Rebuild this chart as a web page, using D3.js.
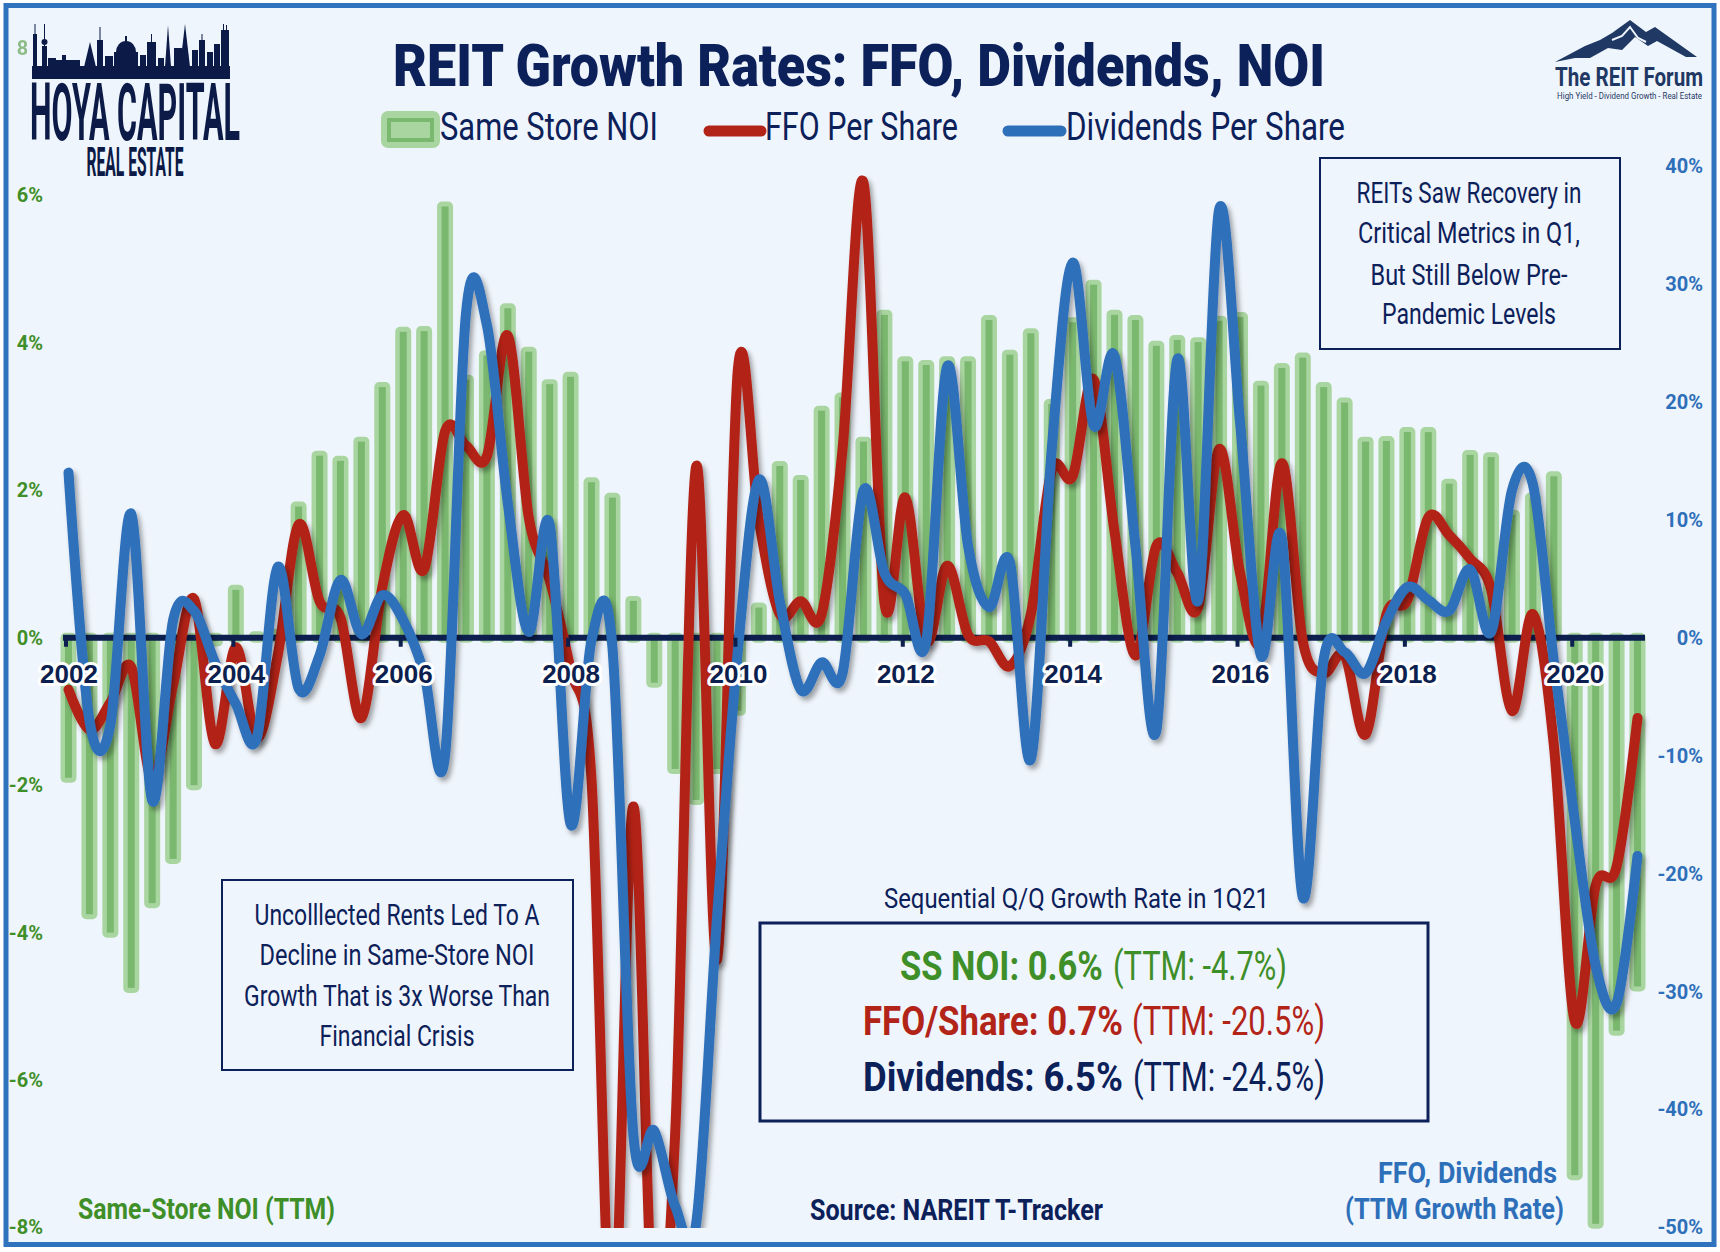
<!DOCTYPE html>
<html>
<head>
<meta charset="utf-8">
<script src="https://cdn.jsdelivr.net/npm/d3@7/dist/d3.min.js"></script>
<style>
  html, body { margin: 0; padding: 0; background: #ffffff; }
  svg { display: block; }
</style>
</head>
<body>
<svg id="chart" width="1720" height="1252"></svg>
<script>
// ---------------- DATA ----------------
const quarters = [
  "2002Q1","2002Q2","2002Q3","2002Q4","2003Q1","2003Q2","2003Q3","2003Q4",
  "2004Q1","2004Q2","2004Q3","2004Q4","2005Q1","2005Q2","2005Q3","2005Q4",
  "2006Q1","2006Q2","2006Q3","2006Q4","2007Q1","2007Q2","2007Q3","2007Q4",
  "2008Q1","2008Q2","2008Q3","2008Q4","2009Q1","2009Q2","2009Q3","2009Q4",
  "2010Q1","2010Q2","2010Q3","2010Q4","2011Q1","2011Q2","2011Q3","2011Q4",
  "2012Q1","2012Q2","2012Q3","2012Q4","2013Q1","2013Q2","2013Q3","2013Q4",
  "2014Q1","2014Q2","2014Q3","2014Q4","2015Q1","2015Q2","2015Q3","2015Q4",
  "2016Q1","2016Q2","2016Q3","2016Q4","2017Q1","2017Q2","2017Q3","2017Q4",
  "2018Q1","2018Q2","2018Q3","2018Q4","2019Q1","2019Q2","2019Q3","2019Q4",
  "2020Q1","2020Q2","2020Q3","2020Q4"
];
// Same Store NOI, TTM growth (%), left axis
const sameStoreNOI = [
  -1.9, -3.75, -4.0, -4.75, -3.6, -3.0, -2.0, -0.05,
  0.65, 0.02, 0.05, 1.78, 2.47, 2.4, 2.66, 3.4,
  4.15, 4.16, 5.85, 3.5, 3.83, 4.47, 3.88, 3.44,
  3.54, 2.11, 1.9, 0.5, -0.61, -1.78, -2.2, -1.78,
  -0.99, 0.41, 2.33, 2.14, 3.08, 3.26, 2.66, 4.38,
  3.75, 3.7, 3.75, 3.75, 4.31, 3.84, 4.13, 3.17,
  4.28, 4.79, 4.38, 4.31, 3.96, 4.04, 4.01, 4.3,
  4.35, 3.42, 3.66, 3.8, 3.4, 3.19, 2.66, 2.67,
  2.79, 2.79, 2.09, 2.48, 2.45, 1.67, 1.9, 2.19,
  -7.29, -7.95, -5.33, -4.73
];
// FFO per share, TTM growth (%), right axis
const ffoPerShare = [
  -4.4, -7.8, -5.5, -2.5, -12.0, -4.0, 3.3, -9.0,
  -0.8, -8.5, -1.5, 9.6, 3.1, 1.7, -6.8, 4.3,
  10.4, 5.8, 17.5, 16.3, 15.4, 25.6, 10.2, 4.9,
  -2.7, -12.0, -60, -14.3, -60, -42, 14.5, -27.3,
  22.8, 10.0, 2.0, 3.1, 2.0, 16.0, 38.6, 3.0,
  11.9, -0.3, 6.1, 0.25, -0.3, -2.4, 2.0, 14.2,
  13.7, 21.9, 9.0, -1.5, 7.8, 5.5, 2.6, 16.0,
  5.5, -0.3, 14.8, -0.3, -3.0, -1.5, -8.2, 2.0,
  3.2, 10.2, 8.7, 6.7, 4.1, -6.2, 2.0, -9.1,
  -32.5, -21.0, -19.4, -6.8
];
// Dividends per share, TTM growth (%), right axis
const dividendsPerShare = [
  14.0, -7.0, -7.4, 10.5, -13.8, 1.5, 2.3, -2.1,
  -5.6, -8.5, 6.0, -4.3, -1.5, 4.9, 0.3, 3.6,
  1.5, -3.0, -10.0, 27.5, 26.5, 11.4, 0.5, 9.6,
  -15.8, -0.2, -0.8, -42.1, -41.8, -48.2, -49.7, -23.7,
  -1.0, 13.4, 3.1, -4.4, -2.1, -3.0, 12.5, 5.5,
  3.7, -0.3, 23.0, 7.8, 2.6, 6.4, -10.3, 16.0,
  31.8, 18.0, 23.9, 7.8, -7.9, 23.6, 3.2, 36.3,
  18.3, -1.5, 8.4, -22.0, -1.8, -1.2, -3.0, 1.4,
  4.3, 3.2, 2.3, 5.8, 0.5, 12.5, 13.0, -2.0,
  -15.5, -27.8, -31.0, -18.5
];
const yearTicks = ["2002Q1","2004Q1","2006Q1","2008Q1","2010Q1","2012Q1","2014Q1","2016Q1","2018Q1","2020Q1"];
const yearLabels = ["2002","2004","2006","2008","2010","2012","2014","2016","2018","2020"];
const leftTicks = [-8, -6, -4, -2, 0, 2, 4, 6, 8];
const rightTicks = [-50, -40, -30, -20, -10, 0, 10, 20, 30, 40];

// ---------------- STYLE ----------------
const NAVY = "#0c2059", GREEN = "#3f8f29", RED = "#b22418", BLUE = "#2e6fba";
const BG = "#eff5fc";

const svg = d3.select("#chart");
const defs = svg.append("defs");
const f = defs.append("filter").attr("id", "shadow")
  .attr("x", "-5%").attr("y", "-5%").attr("width", "110%").attr("height", "115%");
f.append("feDropShadow").attr("dx", 3).attr("dy", 4).attr("stdDeviation", 2.5)
  .attr("flood-color", "#000").attr("flood-opacity", 0.35);
defs.append("clipPath").attr("id", "plotclip").append("rect")
  .attr("x", 40).attr("y", 40).attr("width", 1640).attr("height", 1188);

// background and frame
svg.append("rect").attr("width", 1720).attr("height", 1252).attr("fill", "#ffffff");
svg.append("rect").attr("x", 6).attr("y", 5.5).attr("width", 1708).attr("height", 1239)
  .attr("fill", BG).attr("stroke", "#2f72be").attr("stroke-width", 5);

// ---------------- SCALES ----------------
const x = d3.scalePoint().domain(quarters).range([68.5, 1637.5]);
const yL = d3.scaleLinear().domain([-8, 8]).range([1227.5, 48]);
const yR = d3.scaleLinear().domain([-50, 50]).range([1227.5, 48]);
const y0 = yL(0);

// ---------------- BARS ----------------
const bars = svg.append("g");
const barData = quarters.map((q, i) => ({ q, v: sameStoreNOI[i] }));
bars.selectAll("rect.halo").data(barData).join("rect").attr("class", "halo")
  .attr("x", d => x(d.q) - 8)
  .attr("width", 16)
  .attr("y", d => Math.min(yL(d.v), y0) - 5)
  .attr("height", d => Math.abs(yL(d.v) - y0) + 10)
  .attr("rx", 5)
  .attr("fill", "#a9d5a0");
bars.selectAll("rect.core").data(barData).join("rect").attr("class", "core")
  .attr("x", d => x(d.q) - 3.5)
  .attr("width", 7)
  .attr("y", d => Math.min(yL(d.v), y0))
  .attr("height", d => Math.abs(yL(d.v) - y0))
  .attr("fill", "#7bb86f");

// ---------------- ZERO LINE ----------------
svg.append("line").attr("x1", 63).attr("x2", 1645).attr("y1", y0).attr("y2", y0)
  .attr("stroke", "#0c1f4f").attr("stroke-width", 6);

// ---------------- LINES ----------------
const lineGen = (arr) => d3.line()
  .x((d, i) => x(quarters[i]))
  .y(d => yR(d))
  .curve(d3.curveCatmullRom.alpha(0))(arr);

const lines = svg.append("g").attr("clip-path", "url(#plotclip)");
lines.append("path").attr("d", lineGen(ffoPerShare))
  .attr("fill", "none").attr("stroke", RED).attr("stroke-width", 10)
  .attr("stroke-linejoin", "round").attr("stroke-linecap", "round")
  .attr("filter", "url(#shadow)");
lines.append("path").attr("d", lineGen(dividendsPerShare))
  .attr("fill", "none").attr("stroke", BLUE).attr("stroke-width", 10)
  .attr("stroke-linejoin", "round").attr("stroke-linecap", "round")
  .attr("filter", "url(#shadow)");

// year axis (ticks + labels on top)
const xAxis = d3.axisBottom(x).tickValues(yearTicks)
  .tickFormat(d => yearLabels[yearTicks.indexOf(d)]).tickSize(9);
const xg = svg.append("g").attr("transform", `translate(0,${y0})`).call(xAxis);
xg.select(".domain").remove();
xg.selectAll(".tick line").attr("stroke", "#0c1f4f").attr("stroke-width", 4)
  .attr("transform", "translate(-3,0)");
xg.selectAll(".tick text")
  .attr("y", 45).attr("dy", 0)
  .attr("font-family", "'Liberation Sans', Arial, sans-serif")
  .attr("font-weight", 700).attr("font-size", 26)
  .attr("fill", "#0c1f4f")
  .attr("stroke", "#ffffff").attr("stroke-width", 6).attr("stroke-linejoin", "round")
  .attr("paint-order", "stroke");

// ---------------- Y AXES ----------------
const la = svg.append("g").attr("transform", "translate(43,0)")
  .call(d3.axisLeft(yL).tickValues(leftTicks).tickFormat(d => d + "%").tickSize(0).tickPadding(0));
la.select(".domain").remove();
la.selectAll("text").attr("font-family", "Roboto, sans-serif").attr("font-weight", 700)
  .attr("font-size", 20).attr("fill", GREEN)
  .attr("opacity", d => d === 8 ? 0.55 : 1);

const ra = svg.append("g").attr("transform", "translate(1703,0)")
  .call(d3.axisLeft(yR).tickValues(rightTicks).tickFormat(d => d + "%").tickSize(0).tickPadding(0));
ra.select(".domain").remove();
ra.selectAll("text").attr("font-family", "Roboto, sans-serif").attr("font-weight", 700)
  .attr("font-size", 20).attr("fill", BLUE);

// ---------------- TEXT HELPERS ----------------
function txt(o) {
  const t = svg.append("text")
    .attr("x", o.x).attr("y", o.y)
    .attr("font-family", o.family || "Roboto, 'Open Sans', sans-serif")
    .attr("font-size", o.size)
    .attr("font-weight", o.weight || 400)
    .attr("fill", o.fill || NAVY)
    .attr("text-anchor", o.anchor || "start")
    .text(o.text);
  if (o.len) t.attr("textLength", o.len).attr("lengthAdjust", "spacingAndGlyphs");
  return t;
}
// horizontally condensed text via transform (fits the given width)
function ctxt(o) {
  const g = svg.append("g");
  const t = g.append("text")
    .attr("font-family", o.family || "Roboto, 'Open Sans', sans-serif")
    .attr("font-size", o.size).attr("font-weight", o.weight || 400)
    .attr("fill", o.fill || NAVY).attr("text-anchor", o.anchor || "start")
    .text(o.text);
  const w = t.node().getComputedTextLength();
  const k = o.len / w;
  g.attr("transform", `translate(${o.x},${o.y}) scale(${k},1)`);
  return t;
}

// ---------------- TITLE & LEGEND ----------------
txt({ x: 859, y: 86, text: "REIT Growth Rates: FFO, Dividends, NOI", size: 60, weight: 900, anchor: "middle", len: 932 });

svg.append("rect").attr("x", 381).attr("y", 111).attr("width", 59).attr("height", 37)
  .attr("rx", 7).attr("fill", "#a9d5a0");
svg.append("rect").attr("x", 389).attr("y", 120).attr("width", 43).attr("height", 20)
  .attr("fill", "#a9d5a0").attr("stroke", "#7bb86f").attr("stroke-width", 4);
txt({ x: 549, y: 140, text: "Same Store NOI", size: 39, weight: 400, anchor: "middle", len: 218 });
svg.append("line").attr("x1", 709).attr("x2", 761).attr("y1", 131).attr("y2", 131)
  .attr("stroke", RED).attr("stroke-width", 11).attr("stroke-linecap", "round");
txt({ x: 861.5, y: 140, text: "FFO Per Share", size: 39, weight: 400, anchor: "middle", len: 193 });
svg.append("line").attr("x1", 1008).attr("x2", 1061).attr("y1", 131).attr("y2", 131)
  .attr("stroke", BLUE).attr("stroke-width", 11).attr("stroke-linecap", "round");
txt({ x: 1205.5, y: 140, text: "Dividends Per Share", size: 39, weight: 400, anchor: "middle", len: 279 });

// ---------------- ANNOTATION BOXES ----------------
svg.append("rect").attr("x", 222).attr("y", 880).attr("width", 351).attr("height", 190)
  .attr("fill", "none").attr("stroke", NAVY).attr("stroke-width", 2);
[["Uncolllected Rents Led To A", 925, 285],
 ["Decline in Same-Store NOI", 965, 275],
 ["Growth That is 3x Worse Than", 1006, 306],
 ["Financial Crisis", 1046, 155]].forEach(([s, yy, l]) =>
  txt({ x: 397, y: yy, text: s, size: 30, anchor: "middle", len: l }));

svg.append("rect").attr("x", 1320).attr("y", 158).attr("width", 300).attr("height", 191)
  .attr("fill", "none").attr("stroke", NAVY).attr("stroke-width", 2);
[["REITs Saw Recovery in", 203, 225],
 ["Critical Metrics in Q1,", 243, 222],
 ["But Still Below Pre-", 285, 197],
 ["Pandemic Levels", 324, 174]].forEach(([s, yy, l]) =>
  txt({ x: 1469, y: yy, text: s, size: 30, anchor: "middle", len: l }));

txt({ x: 1076.5, y: 908, text: "Sequential Q/Q Growth Rate in 1Q21", size: 28, anchor: "middle", len: 385 });
svg.append("rect").attr("x", 760).attr("y", 923).attr("width", 668).attr("height", 198)
  .attr("fill", "none").attr("stroke", NAVY).attr("stroke-width", 3);
ctxt({ x: 900, y: 980, text: "SS NOI: 0.6%", size: 40, weight: 700, fill: GREEN, len: 203 });
ctxt({ x: 1287, y: 980, text: "(TTM: -4.7%)", size: 40, weight: 400, fill: GREEN, anchor: "end", len: 174 });
ctxt({ x: 863, y: 1035, text: "FFO/Share: 0.7%", size: 40, weight: 700, fill: RED, len: 260 });
ctxt({ x: 1325, y: 1035, text: "(TTM: -20.5%)", size: 40, weight: 400, fill: RED, anchor: "end", len: 193 });
ctxt({ x: 863, y: 1091, text: "Dividends: 6.5%", size: 40, weight: 700, fill: NAVY, len: 260 });
ctxt({ x: 1325, y: 1091, text: "(TTM: -24.5%)", size: 40, weight: 400, fill: NAVY, anchor: "end", len: 192 });

// ---------------- BOTTOM LABELS ----------------
txt({ x: 78, y: 1219, text: "Same-Store NOI (TTM)", size: 30, weight: 700, fill: GREEN, len: 257 });
txt({ x: 956.5, y: 1220, text: "Source: NAREIT T-Tracker", size: 30, weight: 700, fill: NAVY, anchor: "middle", len: 293 });
txt({ x: 1467.5, y: 1183, text: "FFO, Dividends", size: 30, weight: 700, fill: BLUE, anchor: "middle", len: 179 });
txt({ x: 1454.5, y: 1219, text: "(TTM Growth Rate)", size: 30, weight: 700, fill: BLUE, anchor: "middle", len: 219 });

// ---------------- LOGOS ----------------
// Hoya Capital (left)
svg.append("rect").attr("x", 27).attr("y", 16).attr("width", 220).attr("height", 166).attr("fill", BG);
const sky = svg.append("g").attr("fill", "#0b1a47");
sky.append("rect").attr("x", 32).attr("y", 66).attr("width", 198).attr("height", 13);
const blocks = [[33,37,34],[34.5,35.5,24],[42,47,46],[44,45,24],[48,56,58],[56,80,60],[62,66,55],
  [97,103,40],[99.5,100.5,27],[105,113,56],[140,146,55],[147,156,42],[151,152,34],[158,164,58],
  [174,182,48],[192,198,50],[199,205,40],[201.5,202.5,34],[207,213,52],[214,220,44],[221,229,30],[223,224,24],[226,227,25]];
blocks.forEach(b => sky.append("rect").attr("x", b[0]).attr("y", b[2]).attr("width", b[1]-b[0]).attr("height", 67 - b[2]));
sky.append("circle").attr("cx", 44.5).attr("cy", 42).attr("r", 3);
sky.append("polygon").attr("points", "84,67 90,42 96,67");
sky.append("ellipse").attr("cx", 126).attr("cy", 52).attr("rx", 10).attr("ry", 11);
sky.append("rect").attr("x", 114).attr("y", 52).attr("width", 24).attr("height", 15);
sky.append("rect").attr("x", 125).attr("y", 36).attr("width", 2).attr("height", 8);
sky.append("polygon").attr("points", "165,67 168,25 171,67");
sky.append("polygon").attr("points", "180,67 185,24 190,67");

// logo wordmark: one text, two lines, condensed with a single horizontal scale
const logoG = svg.append("g");
const logoT = logoG.append("text")
  .attr("font-family", "Roboto, sans-serif").attr("font-weight", 700)
  .attr("fill", "#0b1a47").attr("text-anchor", "middle");
const l1 = logoT.append("tspan").attr("x", 0).attr("y", 0).attr("font-size", 80).text("HOYA CAPITAL");
const l2 = logoT.append("tspan").attr("x", 0).attr("y", 36).attr("font-size", 38).text("REAL ESTATE");
const kLogo = 210 / l1.node().getComputedTextLength();
const l2w = l2.node().getComputedTextLength();
l2.attr("font-size", 38 * 97 / (l2w * kLogo));
logoG.attr("transform", `translate(135,140) scale(${kLogo},1)`);

// The REIT Forum (right)
svg.append("polygon").attr("fill", "#1f3864")
  .attr("points", "1555,62 1585,46 1600,40 1612,33 1630,20 1646,32 1655,27 1697,57 1686,57 1657,41 1648,46 1635,37 1622,50 1608,48 1590,58 1575,58");
svg.append("polyline").attr("fill", "none").attr("stroke", BG).attr("stroke-width", 2)
  .attr("points", "1612,40 1622,36 1630,27 1638,38 1646,42");
ctxt({ x: 1703, y: 86, text: "The REIT Forum", size: 25, weight: 700, fill: "#1f3864", anchor: "end", len: 148 });
ctxt({ x: 1702, y: 99, text: "High Yield - Dividend Growth - Real Estate", size: 9.5, weight: 400, fill: "#1f3864", anchor: "end", len: 145 });
</script>
</body>
</html>
